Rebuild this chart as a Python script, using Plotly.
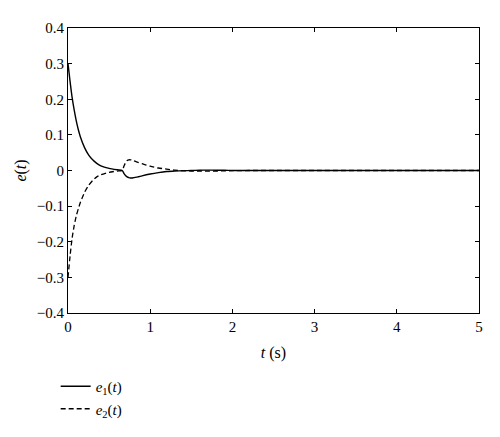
import plotly.graph_objects as go

t = [0, 0.025, 0.05, 0.075, 0.1, 0.125, 0.15, 0.2, 0.25, 0.3, 0.35, 0.4, 0.5, 0.6, 0.66,
     0.68, 0.7, 0.72, 0.74, 0.76, 0.78, 0.8, 0.85, 0.9, 1.0, 1.1, 1.2, 1.3, 1.4, 1.5,
     1.6, 1.7, 1.8, 1.9, 2.0, 2.2, 2.5, 3.0, 4.0, 5.0]
e1 = [0.30, 0.25, 0.205, 0.17, 0.14, 0.115, 0.095, 0.065, 0.044, 0.030, 0.020, 0.013, 0.006, 0.002, 0.0,
      -0.008, -0.014, -0.018, -0.020, -0.021, -0.021, -0.020, -0.018, -0.015, -0.010, -0.006, -0.003, -0.0015, -0.0005, 0.0,
      0.0008, 0.001, 0.0008, 0.0005, 0.0002, 0.0, 0.0, 0.0, 0.0, 0.0]
e2 = [-0.30, -0.24, -0.19, -0.155, -0.128, -0.108, -0.09, -0.062, -0.042, -0.028, -0.018, -0.012, -0.005, -0.0015, 0.0,
      0.012, 0.022, 0.028, 0.030, 0.030, 0.029, 0.027, 0.023, 0.019, 0.012, 0.007, 0.004, 0.001, -0.0005, -0.0015,
      -0.002, -0.002, -0.0015, -0.001, -0.0005, 0.0, 0.0, 0.0, 0.0, 0.0]

names = ["<i>e</i><sub>1</sub>(<i>t</i>)", "<i>e</i><sub>2</sub>(<i>t</i>)"]
font = "Liberation Serif"

fig = go.Figure()
fig.add_trace(go.Scatter(x=t, y=e1, mode="lines", name=names[0],
                         line=dict(color="black", width=1.4, shape="spline", smoothing=0.6)))
fig.add_trace(go.Scatter(x=t, y=e2, mode="lines", name=names[1],
                         line=dict(color="black", width=1.3, dash="5px,3px", shape="spline", smoothing=0.6)))

axis_common = dict(showgrid=False, zeroline=False, showline=True, linecolor="black", linewidth=1,
                   mirror="ticks", ticks="inside", ticklen=4, tickcolor="black",
                   tickfont=dict(family=font, size=15, color="black"))
fig.update_xaxes(range=[0, 5], dtick=1, tick0=0,
                 title=dict(text="<i>t</i> (s)", font=dict(family=font, size=16, color="black"), standoff=12),
                 **axis_common)
fig.update_yaxes(range=[-0.4, 0.4], dtick=0.1, tick0=0,
                 title=dict(text="<i>e</i>(<i>t</i>)", font=dict(family=font, size=16, color="black"), standoff=6),
                 **axis_common)

fig.update_layout(
    width=492, height=429,
    margin=dict(l=60, r=21, t=17, b=115),
    plot_bgcolor="white", paper_bgcolor="white",
    showlegend=True,
    legend=dict(x=-0.03, y=-0.2, xanchor="left", yanchor="top",
                font=dict(family=font, size=15, color="black"),
                bgcolor="rgba(0,0,0,0)", tracegroupgap=0, itemwidth=30),
    font=dict(family=font, color="black"),
)

fig.write_html("out.html")
